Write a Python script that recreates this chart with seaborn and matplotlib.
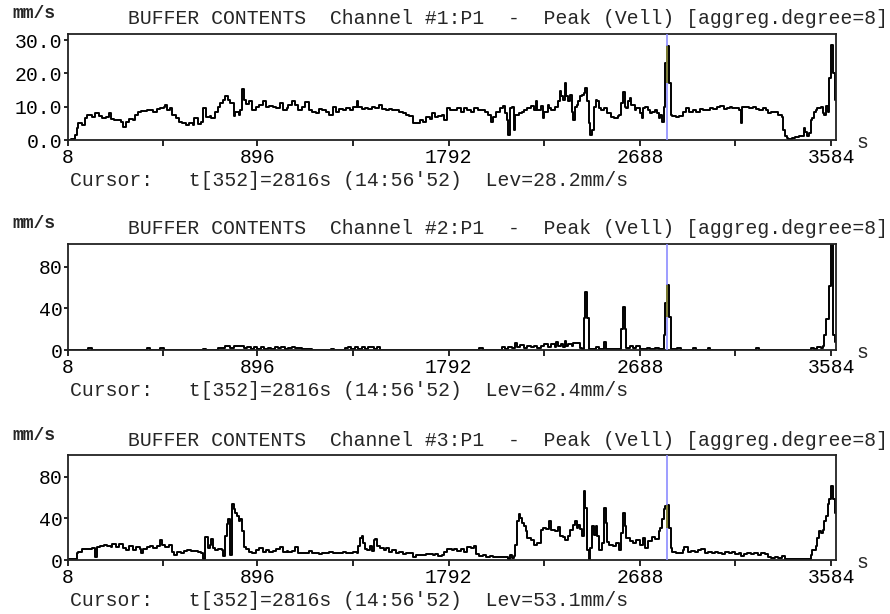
import matplotlib
matplotlib.use("Agg")
import matplotlib.pyplot as plt
import seaborn as sns
import pandas as pd

# ---------------- data ----------------
x_ticks = [8, 896, 1792, 2688, 3584]
x_minor = [452, 1344, 2240, 3136]
ch_titles = ["BUFFER CONTENTS  Channel #1:P1  -  Peak (Vell) [aggreg.degree=8]",
             "BUFFER CONTENTS  Channel #2:P1  -  Peak (Vell) [aggreg.degree=8]",
             "BUFFER CONTENTS  Channel #3:P1  -  Peak (Vell) [aggreg.degree=8]"]
cursor_t = 2816
cursor_levels = [28.2, 62.4, 53.1]
cursor_texts = ["Cursor:   t[352]=2816s (14:56'52)  Lev=28.2mm/s",
                "Cursor:   t[352]=2816s (14:56'52)  Lev=62.4mm/s",
                "Cursor:   t[352]=2816s (14:56'52)  Lev=53.1mm/s"]
y_ticks = [[0, 10, 20, 30], [0, 40, 80], [0, 40, 80]]
y_ticklabels = [["0.0", "10.0", "20.0", "30.0"], ["0", "40", "80"], ["0", "40", "80"]]
y_max = [31.8, 102, 101]

ch1_t = [8, 24, 40, 48, 56, 72, 88, 96, 112, 120, 136, 152, 168, 184, 200, 208, 224, 240, 256, 264,
         280, 296, 312, 320, 336, 352, 368, 376, 392, 408, 424, 440, 456, 464, 472, 488, 496, 512, 528, 544,
         560, 576, 592, 600, 616, 632, 640, 656, 672, 680, 696, 712, 720, 736, 744, 760, 768, 784, 792, 808,
         816, 824, 832, 840, 856, 872, 888, 904, 920, 936, 952, 968, 984, 1000, 1016, 1032, 1040, 1056, 1072, 1088,
         1104, 1120, 1136, 1152, 1168, 1184, 1200, 1216, 1232, 1248, 1264, 1280, 1296, 1312, 1328, 1344, 1360, 1368, 1384, 1400,
         1416, 1432, 1448, 1464, 1480, 1496, 1512, 1528, 1544, 1560, 1576, 1592, 1608, 1624, 1640, 1656, 1672, 1688, 1704, 1712,
         1728, 1744, 1760, 1768, 1784, 1800, 1816, 1832, 1848, 1864, 1880, 1896, 1912, 1928, 1944, 1960, 1976, 1992, 2000, 2016,
         2032, 2048, 2056, 2064, 2072, 2080, 2088, 2096, 2104, 2120, 2136, 2144, 2160, 2176, 2192, 2200, 2208, 2224, 2232, 2240,
         2256, 2264, 2272, 2288, 2304, 2312, 2320, 2328, 2336, 2344, 2352, 2360, 2368, 2376, 2384, 2392, 2400, 2408, 2416, 2424,
         2432, 2440, 2448, 2456, 2464, 2472, 2480, 2488, 2496, 2504, 2520, 2536, 2552, 2568, 2584, 2592, 2600, 2608, 2616, 2624,
         2632, 2640, 2648, 2664, 2672, 2688, 2696, 2704, 2712, 2728, 2736, 2744, 2760, 2768, 2776, 2784, 2792, 2800, 2808, 2816,
         2824, 2832, 2840, 2856, 2872, 2888, 2904, 2920, 2936, 2952, 2968, 2984, 3000, 3016, 3032, 3048, 3064, 3080, 3096, 3112,
         3120, 3136, 3152, 3160, 3168, 3184, 3200, 3216, 3232, 3248, 3264, 3280, 3288, 3304, 3320, 3336, 3352, 3360, 3368, 3376,
         3384, 3400, 3416, 3432, 3440, 3456, 3464, 3472, 3480, 3488, 3496, 3504, 3512, 3520, 3536, 3544, 3552, 3560, 3568, 3576,
         3584, 3592, 3600]
ch1_v = [0.0, 0.2, 1.5, 3.5, 5.0, 4.5, 6.5, 7.5, 7.5, 7.0, 8.0, 7.3, 6.5, 7.0, 8.0, 6.3, 6.0, 5.9, 5.5, 4.0,
         5.5, 6.3, 6.0, 7.5, 8.5, 8.8, 8.8, 9.0, 9.0, 8.5, 9.3, 9.5, 10.0, 10.6, 9.0, 9.6, 7.5, 6.5, 5.5, 5.0,
         4.5, 5.2, 4.5, 6.5, 4.8, 5.5, 9.6, 7.0, 7.3, 6.5, 8.3, 10.0, 11.0, 12.0, 13.3, 12.0, 11.0, 7.3, 8.5, 7.5,
         9.0, 15.4, 12.0, 10.9, 11.6, 9.0, 10.0, 10.6, 11.6, 10.0, 10.3, 10.0, 9.6, 11.0, 9.0, 9.6, 10.6, 11.6, 10.6, 9.0,
         10.0, 11.3, 9.0, 8.5, 8.0, 9.3, 9.0, 8.3, 7.5, 10.0, 8.5, 9.3, 9.0, 9.6, 9.0, 9.8, 11.6, 10.0, 9.3, 9.6,
         9.3, 10.0, 9.6, 10.6, 9.3, 9.0, 9.3, 8.9, 9.0, 8.5, 8.0, 7.5, 7.3, 5.0, 5.2, 6.0, 5.5, 6.9, 6.3, 8.0,
         6.9, 7.3, 7.5, 5.9, 9.6, 9.0, 9.0, 9.6, 8.5, 9.6, 9.0, 8.5, 9.6, 9.0, 8.9, 8.5, 7.5, 5.5, 6.9, 8.5,
         9.6, 10.3, 8.0, 6.0, 1.5, 9.6, 10.0, 3.0, 7.5, 8.0, 8.5, 9.0, 9.6, 10.3, 9.0, 11.6, 9.0, 10.3, 6.5, 8.5,
         10.6, 9.6, 9.0, 10.0, 11.6, 14.6, 13.1, 12.0, 17.2, 13.1, 11.6, 13.6, 8.5, 6.0, 10.0, 10.6, 11.6, 13.1, 13.6, 14.1,
         15.7, 11.6, 5.0, 1.5, 3.0, 10.0, 12.0, 11.6, 9.6, 9.0, 9.6, 8.0, 6.9, 6.5, 7.3, 7.5, 11.0, 14.3, 10.0, 9.6,
         11.6, 12.6, 10.6, 9.0, 9.6, 8.0, 6.5, 9.6, 10.0, 9.0, 8.0, 8.5, 9.0, 8.0, 6.5, 7.5, 5.5, 10.0, 23.0, 28.2,
         17.2, 7.5, 7.3, 6.9, 7.3, 8.5, 9.6, 8.5, 9.0, 8.5, 9.3, 8.9, 9.0, 9.6, 9.3, 9.8, 10.3, 9.3, 9.6, 9.8,
         9.6, 9.5, 9.0, 5.2, 10.0, 9.8, 9.6, 9.8, 9.3, 9.0, 9.6, 9.0, 8.0, 8.3, 8.5, 7.5, 6.9, 3.0, 1.2, 0.5,
         0.2, 0.5, 1.0, 1.2, 1.2, 3.5, 2.5, 1.2, 2.0, 6.0, 6.5, 8.5, 9.0, 9.6, 10.0, 8.0, 7.5, 10.3, 8.5, 18.7,
         28.5, 20.2, 12.0]

ch2_t = [8, 104, 120, 376, 392, 440, 456, 640, 656, 712, 744, 768, 784, 832, 848, 864, 880, 896, 912, 928,
         944, 960, 976, 992, 1008, 1024, 1040, 1056, 1072, 1088, 1104, 1136, 1152, 1240, 1256, 1304, 1320, 1336, 1352, 1368,
         1384, 1400, 1416, 1440, 1456, 1472, 1936, 1952, 2040, 2056, 2072, 2088, 2104, 2112, 2128, 2144, 2160, 2176, 2192, 2208,
         2224, 2240, 2256, 2272, 2288, 2296, 2304, 2320, 2328, 2336, 2344, 2352, 2368, 2376, 2392, 2408, 2416, 2424, 2432, 2440,
         2448, 2480, 2496, 2520, 2528, 2600, 2608, 2616, 2624, 2640, 2656, 2672, 2688, 2720, 2736, 2760, 2776, 2792, 2800, 2808,
         2816, 2824, 2832, 2864, 2880, 2936, 2952, 3008, 3016, 3232, 3248, 3488, 3504, 3520, 3536, 3544, 3552, 3560, 3568, 3576,
         3584, 3592, 3600]
ch2_v = [0.3, 2.0, 0.3, 2.0, 0.3, 1.5, 0.3, 1.0, 0.3, 1.5, 4.0, 2.0, 4.0, 1.5, 2.5, 1.0, 2.5, 1.2, 2.5, 1.0,
         2.0, 1.0, 2.5, 1.5, 2.5, 1.0, 2.0, 2.5, 1.5, 2.0, 0.5, 1.0, 0.3, 1.0, 0.3, 1.5, 2.5, 1.0, 2.5, 1.0,
         2.5, 1.0, 2.5, 1.0, 2.5, 0.3, 2.0, 0.3, 2.5, 1.0, 3.0, 1.5, 7.0, 3.0, 4.5, 2.0, 4.0, 2.5, 3.5, 2.0,
         4.0, 5.5, 3.0, 6.0, 3.0, 7.5, 4.0, 6.0, 3.0, 9.0, 4.0, 6.0, 4.0, 7.0, 7.0, 2.0, 1.0, 30.5, 56.0, 30.5,
         1.0, 3.0, 0.5, 8.0, 0.5, 20.5, 41.0, 20.5, 2.0, 4.0, 2.0, 4.0, 1.0, 2.0, 0.5, 2.0, 1.0, 1.0, 14.0, 45.0,
         62.4, 32.0, 1.0, 2.0, 0.3, 2.0, 0.3, 1.5, 0.3, 2.0, 0.3, 2.0, 1.0, 3.0, 2.0, 4.0, 14.0, 30.0, 30.0, 62.0,
         104.0, 14.0, 8.0]

ch3_t = [8, 48, 56, 72, 88, 104, 120, 136, 144, 160, 176, 192, 208, 216, 232, 248, 264, 280, 296, 312,
         328, 344, 352, 360, 376, 392, 408, 424, 440, 448, 464, 480, 496, 504, 520, 536, 552, 568, 584, 600,
         616, 632, 640, 648, 656, 664, 672, 680, 688, 696, 712, 728, 736, 744, 752, 760, 768, 776, 784, 792,
         800, 808, 816, 824, 832, 840, 856, 872, 888, 904, 920, 936, 952, 968, 984, 1000, 1016, 1032, 1040, 1056,
         1072, 1088, 1104, 1120, 1136, 1152, 1168, 1184, 1200, 1216, 1232, 1248, 1264, 1280, 1296, 1312, 1328, 1344, 1360, 1368,
         1376, 1384, 1392, 1400, 1408, 1424, 1432, 1440, 1448, 1456, 1472, 1488, 1496, 1512, 1528, 1544, 1560, 1576, 1592, 1608,
         1624, 1640, 1656, 1672, 1688, 1704, 1720, 1728, 1744, 1760, 1768, 1784, 1800, 1808, 1816, 1832, 1848, 1864, 1880, 1896,
         1912, 1920, 1936, 1952, 1968, 1984, 2000, 2016, 2032, 2048, 2064, 2072, 2080, 2088, 2096, 2104, 2112, 2120, 2128, 2136,
         2144, 2152, 2160, 2176, 2192, 2208, 2224, 2232, 2248, 2264, 2272, 2288, 2304, 2312, 2328, 2336, 2352, 2360, 2376, 2384,
         2392, 2400, 2408, 2416, 2424, 2432, 2440, 2448, 2456, 2464, 2472, 2480, 2488, 2496, 2504, 2512, 2520, 2528, 2536, 2544,
         2560, 2576, 2592, 2600, 2608, 2616, 2624, 2640, 2656, 2672, 2688, 2704, 2712, 2728, 2744, 2760, 2776, 2784, 2792, 2800,
         2808, 2816, 2824, 2832, 2840, 2856, 2872, 2888, 2896, 2912, 2928, 2944, 2960, 2976, 2992, 3008, 3024, 3040, 3056, 3072,
         3088, 3104, 3120, 3136, 3152, 3160, 3176, 3192, 3208, 3224, 3240, 3256, 3272, 3288, 3304, 3320, 3336, 3352, 3368, 3480,
         3488, 3496, 3512, 3520, 3528, 3536, 3544, 3552, 3560, 3568, 3576, 3584, 3592, 3600]
ch3_v = [0.5, 6.5, 8.0, 10.4, 10.7, 10.4, 11.4, 2.6, 12.3, 13.6, 14.6, 13.0, 12.3, 15.6, 12.3, 15.6, 11.4, 9.7, 13.0, 9.7,
         12.3, 11.0, 6.5, 10.4, 12.3, 13.0, 11.4, 13.6, 19.5, 14.6, 12.3, 14.6, 8.1, 4.9, 8.1, 6.5, 9.1, 9.7, 8.8, 9.1,
         8.1, 6.5, 0.6, 22.0, 22.0, 11.4, 14.6, 20.0, 11.4, 9.7, 10.4, 9.7, 3.9, 22.7, 35.0, 39.0, 4.9, 53.6, 49.4, 45.5,
         42.3, 37.3, 39.0, 27.6, 12.3, 10.4, 8.1, 6.5, 9.7, 11.4, 8.1, 9.7, 8.1, 9.1, 10.4, 12.3, 8.1, 9.1, 8.1, 9.1,
         12.3, 7.2, 7.2, 6.5, 9.1, 6.5, 7.2, 5.9, 7.2, 7.2, 8.1, 6.5, 7.2, 6.5, 8.1, 6.5, 7.2, 8.1, 7.2, 13.0,
         21.1, 23.4, 16.3, 10.4, 9.7, 13.0, 9.1, 19.5, 20.2, 13.0, 11.4, 9.7, 11.4, 8.1, 9.7, 6.5, 8.1, 5.9, 6.5, 6.5,
         3.3, 4.9, 4.9, 4.9, 5.9, 5.9, 4.9, 5.9, 3.9, 4.9, 8.1, 10.4, 10.4, 9.7, 10.4, 9.1, 10.4, 8.1, 12.3, 11.4,
         13.6, 5.9, 3.9, 4.9, 3.3, 3.9, 3.3, 3.3, 3.3, 3.3, 2.6, 0.6, 4.9, 1.6, 3.9, 14.6, 37.3, 43.8, 40.6, 35.7,
         32.5, 27.6, 21.1, 19.5, 14.6, 16.3, 29.2, 30.8, 29.9, 37.3, 29.2, 27.6, 31.8, 23.4, 22.0, 18.8, 23.4, 29.2, 34.1, 37.3,
         30.8, 34.1, 30.0, 22.7, 66.6, 50.3, 9.7, 0.0, 11.4, 32.5, 24.4, 32.5, 22.7, 9.7, 9.7, 16.3, 50.3, 35.7, 16.9, 14.6,
         13.0, 16.3, 9.7, 26.0, 45.5, 32.5, 21.1, 17.9, 16.3, 19.5, 14.6, 21.1, 11.4, 17.9, 22.0, 20.2, 27.6, 30.8, 39.0, 48.7,
         52.0, 53.1, 30.8, 11.4, 8.1, 7.2, 7.2, 9.7, 12.3, 8.1, 9.1, 8.1, 9.7, 10.4, 7.2, 8.1, 6.5, 8.1, 7.2, 5.9,
         8.1, 6.5, 8.1, 5.9, 7.2, 3.9, 5.9, 7.2, 5.9, 6.5, 4.9, 6.5, 5.9, 2.6, 1.6, 2.6, 1.6, 3.9, 0.6, 0.6,
         4.9, 9.7, 13.0, 21.1, 27.6, 26.0, 29.2, 37.3, 42.3, 53.6, 59.1, 71.4, 58.4, 45.5]

channels = [(ch1_t, ch1_v), (ch2_t, ch2_v), (ch3_t, ch3_v)]

# ---------------- style ----------------
sns.set_style("white")
FONT = ["Liberation Mono", "DejaVu Sans Mono"]
plt.rcParams["font.family"] = FONT
FS = 14.2
W, H = 890, 614

fig = plt.figure(figsize=(W / 100, H / 100), dpi=100)
fig.patch.set_facecolor("white")

# panel boxes in pixel coords: (top, bottom)
boxes = [(34, 140), (244, 350), (455, 560)]
LEFT, RIGHT = 68, 836

def fx(px):
    return px / W

def fy(py):
    return 1 - py / H

for i, ((top, bot), (t, v)) in enumerate(zip(boxes, channels)):
    ax = fig.add_axes([fx(LEFT), fy(bot), (RIGHT - LEFT) / W, (bot - top) / H])
    df = pd.DataFrame({"t": t, "v": v})
    sns.lineplot(data=df, x="t", y="v", ax=ax, color="black", lw=1.4,
                 drawstyle="steps-post", estimator=None, sort=True)
    # cursor line
    ax.axvline(cursor_t, color="#8c8cff", lw=1.2, zorder=3)
    idx = t.index(cursor_t)
    ax.vlines(cursor_t, min(v[idx], v[idx + 1]), max(v[idx], v[idx + 1]),
              color="#7a7a10", lw=1.2, zorder=4)
    ax.set_xlim(8, 3607)
    ax.set_ylim(0, y_max[i])
    ax.set_xlabel("")
    ax.set_ylabel("")
    xt = sorted(x_ticks + x_minor)
    ax.set_xticks(xt)
    ax.set_xticklabels([str(x) if x in x_ticks else "" for x in xt], fontsize=FS)
    ax.set_yticks(y_ticks[i])
    ax.set_yticklabels(y_ticklabels[i], fontsize=FS)
    ax.tick_params(axis="x", direction="out", length=4.5, width=1.2, pad=1.0,
                   colors="black", bottom=True)
    ax.tick_params(axis="y", direction="out", length=3, width=1.2, pad=1,
                   colors="black", left=True)
    for s in ax.spines.values():
        s.set_visible(True)
        s.set_color("#222222")
        s.set_linewidth(1.3)
    ax.grid(False)

    fig.text(fx(12), fy(top - 20), "mm/s", fontsize=13, fontweight="bold",
             ha="left", va="center", family=FONT)
    fig.text(fx(128), fy(top - 15), ch_titles[i], fontsize=FS,
             ha="left", va="center", family=FONT)
    fig.text(fx(856), fy(bot + 2), "s", fontsize=FS, ha="left", va="center", family=FONT)
    fig.text(fx(70), fy(bot + 41), cursor_texts[i], fontsize=FS,
             ha="left", va="center", family=FONT)

fig.savefig("out.png", dpi=100, facecolor="white")
